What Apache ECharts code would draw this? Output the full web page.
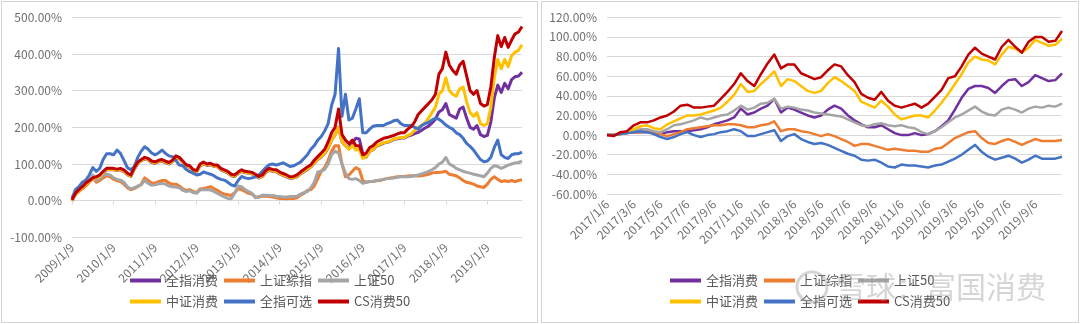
<!DOCTYPE html>
<html>
<head>
<meta charset="utf-8">
<script src="https://cdn.jsdelivr.net/npm/echarts@6/dist/echarts.min.js"></script>
<style>
  html, body { margin: 0; padding: 0; background: #ffffff; }
  #wrap { position: relative; width: 1080px; height: 324px; overflow: hidden; background: #fff; }
  #left { position: absolute; left: 0; top: 0; width: 540px; height: 324px; }
  #right { position: absolute; left: 540px; top: 0; width: 540px; height: 324px; }
  .frame { position: absolute; border: 1px solid #d4d4d4; pointer-events: none; box-sizing: border-box; }
</style>
</head>
<body>
<div id="wrap">
  <div id="left"></div>
  <div id="right"></div>
  <div class="frame" style="left:1px;top:1px;width:537px;height:322px;"></div>
  <div class="frame" style="left:541px;top:1px;width:538px;height:322px;"></div>
</div>
<script>
// ---------- names & colours ----------
const seriesNames = ['全指消费', '上证综指', '上证50', '中证消费', '全指可选', 'CS消费50'];
const seriesColors = ['#7030A0', '#ED7D31', '#A5A5A5', '#FFC000', '#4472C4', '#C00000'];

// ---------- left chart: monthly, 2009/1/9 .. 2019/11/9 ----------
const leftStartYear = 2009;
const leftPointCount = 131;
const leftYTicks = [-100, 0, 100, 200, 300, 400, 500];

const leftPurple = [
  0, 17, 27, 35, 44, 51, 59, 61, 66, 76, 84, 84,
  84, 82, 84, 79, 71, 66, 86, 101, 109, 114, 111, 104,
  102, 106, 108, 104, 100, 106, 117, 114, 104, 94, 91, 81,
  78, 95, 100, 96, 98, 93, 93, 84, 80, 76, 68, 66,
  74, 79, 76, 75, 73, 68, 62, 66, 77, 83, 80, 79,
  73, 69, 65, 61, 62, 65, 73, 79, 85, 92, 102, 112,
  119, 129, 144, 165, 180, 200, 160, 150, 142, 158, 170, 168,
  128, 119, 134, 139, 149, 152, 157, 159, 162, 167, 169, 171,
  171, 176, 179, 183, 186, 192, 198, 203, 212, 222, 242, 248,
  265, 235, 230, 225, 250, 255, 225, 200, 195, 205, 180, 175,
  178, 215, 280, 315, 295, 320, 305, 330, 338, 340, 350
];
const leftOrange = [
  8, 18, 25, 32, 40, 50, 65, 50, 55, 62, 68, 65,
  58, 55, 52, 45, 35, 30, 33, 38, 45, 62, 55, 48,
  48, 52, 55, 55, 48, 45, 45, 40, 32, 28, 30, 25,
  22, 32, 33, 35, 38, 33, 28, 22, 18, 16, 14, 22,
  32, 30, 25, 20, 18, 10, 10, 12, 12, 11, 10, 8,
  6, 6, 5, 6, 6, 8, 15, 20, 28, 30, 40, 60,
  80, 90, 110, 135, 150, 150, 100, 65, 70, 80, 90, 85,
  55, 50, 52, 52, 54, 55, 58, 60, 62, 63, 65, 66,
  66, 67, 68, 68, 67, 68, 70, 72, 75, 77, 77, 78,
  80, 72, 70, 68, 62, 55, 50, 48, 45, 40, 38, 36,
  45, 58, 65, 58, 52, 54, 52, 55, 52, 55, 57
];
const leftGray = [
  10, 22, 30, 38, 45, 55, 70, 55, 60, 68, 72, 70,
  62, 58, 56, 50, 38, 32, 35, 40, 43, 55, 47, 42,
  43, 46, 47, 45, 40, 38, 37, 35, 28, 25, 27, 22,
  20, 29, 30, 30, 29, 25, 20, 15, 10, 6, 5, 20,
  40, 38, 30, 25, 20, 8, 10, 15, 15, 14, 14, 12,
  11, 10, 10, 11, 11, 12, 18, 22, 25, 35, 50, 78,
  80, 85, 100, 125, 135, 130, 100, 75, 60, 58, 60, 55,
  47, 50, 52, 53, 55, 56, 58, 60, 61, 62, 64, 65,
  65, 65, 66, 68, 70, 73, 76, 80, 84, 90, 100, 105,
  118, 100, 95, 88, 84, 80, 77, 75, 72, 70, 68, 65,
  75, 88, 95, 93, 88, 92, 97, 100, 103, 104, 108
];
const leftYellow = [
  0, 17, 27, 35, 45, 52, 60, 62, 67, 77, 85, 85,
  85, 83, 85, 80, 72, 67, 87, 102, 110, 115, 112, 105,
  103, 107, 109, 105, 101, 107, 118, 115, 105, 95, 92, 82,
  79, 96, 101, 97, 99, 94, 94, 85, 81, 77, 69, 67,
  75, 80, 77, 76, 74, 69, 63, 67, 78, 84, 81, 80,
  74, 70, 66, 62, 63, 66, 74, 80, 86, 93, 103, 113,
  120, 130, 145, 165, 180, 200, 160, 150, 140, 150, 138, 140,
  115, 120, 135, 140, 150, 153, 158, 160, 163, 168, 170, 172,
  172, 178, 182, 192, 200, 205, 212, 225, 240, 255, 290, 300,
  335, 300, 290, 285, 305, 310, 270, 240, 230, 240, 210, 205,
  210, 255, 335, 385, 360, 385, 365, 395, 405, 410, 425
];
const leftBlue = [
  5, 30, 38, 50, 56, 70, 90, 80, 88, 112, 128, 128,
  125, 138, 129, 110, 90, 84, 93, 118, 135, 147, 140, 130,
  125, 130, 138, 129, 122, 120, 110, 97, 95, 85, 79, 75,
  70, 72, 78, 75, 72, 68, 62, 58, 56, 50, 43, 40,
  55, 66, 62, 60, 62, 65, 70, 80, 90, 98, 100, 97,
  100, 103, 98, 93, 95, 100, 105, 115, 125, 140, 150, 165,
  175, 190, 210, 260, 290, 415, 230, 290, 220, 225, 250, 278,
  185, 185, 195, 203, 205, 205, 205, 210, 213, 218, 220, 210,
  205, 205, 205, 200, 195, 205, 210, 213, 220, 225, 222, 215,
  206, 200, 195, 185, 180, 170, 156, 148, 138, 125, 112, 106,
  108, 118, 145, 165, 125, 118, 115, 125, 128, 128, 132
];
const leftRed = [
  2, 20, 30, 38, 48, 55, 62, 65, 70, 80, 88, 88,
  88, 86, 88, 84, 75, 70, 90, 105, 112, 118, 115, 108,
  106, 110, 112, 108, 104, 110, 122, 118, 108, 98, 95, 85,
  82, 100, 105, 100, 102, 97, 97, 88, 84, 80, 72, 70,
  78, 84, 80, 79, 77, 72, 66, 70, 82, 88, 85, 84,
  78, 74, 70, 65, 66, 70, 78, 85, 92, 98, 110, 120,
  130, 140, 160, 185, 200, 250, 180, 165, 155, 165, 150, 150,
  125, 130, 145, 150, 160, 165, 170, 172, 175, 178, 182, 185,
  185, 195, 202, 215, 235, 245, 255, 265, 275, 290, 345, 360,
  405, 370, 355, 345, 370, 380, 340, 300, 290, 300, 265, 258,
  262, 310, 390, 450, 420, 445, 418, 438, 455, 460, 475
];

// ---------- right chart: half-monthly, 2017/1/6 .. 2019/11/6 ----------
const rightStartYear = 2017;
const rightPointCount = 69;
const rightYTicks = [-60, -40, -20, 0, 20, 40, 60, 80, 100, 120];

const rightPurple = [
  0, 0, 1, 2, 3, 3, 3, 2, 1, 3, 4, 4, 4, 5, 6, 8, 11, 13, 15, 18, 27, 21,
  23, 27, 30, 37, 23, 28, 26, 23, 20, 18, 20, 26, 30, 27, 20, 15, 11, 8, 8, 10, 6,
  2, 0, 0, 2, 0, 1, 4, 9, 15, 26, 38, 47, 50, 50, 48, 43, 50, 56, 57, 50, 54, 61, 58, 55, 56, 63
];
const rightOrange = [
  0, 0, 1, 2, 3, 3, 4, 3, 1, -1, 1, 3, 6, 7, 8, 9, 10, 10, 11, 11, 10, 8,
  8, 10, 11, 14, 4, 6, 6, 4, 3, 1, -1, 1, -1, -4, -7, -11, -9, -9, -11, -13, -15,
  -14, -15, -16, -16, -17, -17, -14, -13, -8, -3, 0, 3, 4, -3, -8, -9, -6, -4, -7, -10, -7, -4, -6, -6, -6, -5
];
const rightGray = [
  0, 0, 1, 2, 4, 6, 6, 4, 3, 6, 10, 11, 13, 15, 18, 16, 18, 20, 21, 25, 30, 26,
  28, 32, 33, 37, 27, 29, 28, 26, 25, 23, 22, 21, 20, 19, 16, 13, 10, 9, 11, 12, 10,
  9, 10, 8, 7, 3, 1, 4, 8, 13, 18, 21, 25, 29, 24, 21, 20, 26, 28, 26, 23, 27, 29, 28, 30, 29, 32
];
const rightYellow = [
  0, 0, 1, 3, 6, 9, 10, 7, 6, 11, 14, 17, 20, 20, 21, 23, 25, 28, 34, 41, 52, 44,
  45, 52, 58, 65, 50, 57, 55, 50, 45, 43, 45, 53, 59, 55, 50, 45, 34, 31, 28, 35, 29,
  21, 16, 18, 20, 20, 18, 25, 33, 42, 52, 62, 74, 80, 77, 76, 72, 82, 90, 88, 84, 89, 97, 94, 91, 92, 98
];
const rightBlue = [
  0, 0, 1, 2, 3, 4, 3, 1, -2, -4, -2, 1, 3, 0, -2, 0, 1, 3, 4, 6, 4, -1,
  -1, 1, 3, 5, -6, -1, 1, -4, -7, -9, -8, -10, -13, -16, -19, -21, -25, -26, -25, -28, -32,
  -33, -30, -31, -31, -32, -33, -31, -30, -27, -24, -20, -15, -10, -17, -22, -25, -23, -21, -24, -28, -25, -21, -24, -24, -24, -22
];
const rightRed = [
  0, -1, 3, 4, 10, 13, 13, 15, 18, 20, 24, 30, 31, 28, 28, 29, 30, 37, 44, 52, 63, 55,
  50, 62, 73, 82, 68, 72, 72, 63, 60, 57, 59, 66, 72, 70, 61, 54, 42, 38, 36, 44, 35,
  30, 28, 30, 32, 28, 32, 39, 46, 58, 60, 70, 82, 89, 83, 80, 77, 90, 97, 90, 84, 95, 100, 100, 95, 96, 106
];

// ---------- categories ----------
const leftDates = [];
for (let i = 0; i < leftPointCount; i++) {
  const y = leftStartYear + Math.floor(i / 12);
  const m = (i % 12) + 1;
  leftDates.push(y + '/' + m + '/9');
}
const rightDates = [];
for (let i = 0; i < rightPointCount; i++) {
  const mi = Math.floor(i / 2);
  const y = rightStartYear + Math.floor(mi / 12);
  const m = (mi % 12) + 1;
  rightDates.push(y + '/' + m + '/' + (i % 2 === 0 ? '6' : '21'));
}

const FONT = '"Noto Sans CJK SC", "Noto Sans", sans-serif';
const legendData = ['全指消费', '上证综指', '上证50', '', '中证消费', '全指可选', 'CS消费50'];
const watermarkText = '雪球：富国消费';

function buildSeries(arrs, width) {
  return arrs.map((d, i) => ({
    name: seriesNames[i],
    type: 'line',
    data: d,
    showSymbol: false,
    symbol: 'none',
    lineStyle: { width: width, color: seriesColors[i], join: 'round' },
    itemStyle: { color: seriesColors[i] },
    animation: false,
    z: 2 + i
  }));
}

function baseLegend() {
  return {
    data: legendData,
    left: 130,
    top: 273,
    icon: 'rect',
    itemWidth: 31,
    itemHeight: 4,
    itemGap: 6,
    textStyle: { fontFamily: FONT, fontSize: 13, color: '#595959', lineHeight: 15 },
    padding: 0
  };
}

function yAxisFmt(v) { return v.toFixed(2) + '%'; }

// ---------- left chart ----------
const leftChart = echarts.init(document.getElementById('left'), null, { renderer: 'canvas' });
leftChart.setOption({
  animation: false,
  color: seriesColors,
  grid: { left: 72, right: 18, top: 17.3, bottom: 86.7, containLabel: false },
  legend: baseLegend(),
  xAxis: {
    type: 'category',
    data: leftDates,
    boundaryGap: false,
    axisLine: { show: true, onZero: true, lineStyle: { color: '#d9d9d9', width: 1 } },
    axisTick: { show: true, length: 4, interval: (i) => i % 12 === 0, lineStyle: { color: '#d9d9d9' } },
    axisLabel: {
      interval: (i) => i % 12 === 0,
      rotate: 45, margin: 8,
      fontFamily: FONT, fontSize: 12, color: '#6f6f6f'
    },
    splitLine: { show: false }
  },
  yAxis: {
    type: 'value',
    min: leftYTicks[0], max: leftYTicks[leftYTicks.length - 1], interval: 100,
    axisLine: { show: false }, axisTick: { show: false },
    axisLabel: { formatter: yAxisFmt, fontFamily: FONT, fontSize: 12, color: '#6f6f6f', margin: 10 },
    splitLine: { lineStyle: { color: '#d9d9d9', width: 1 } }
  },
  series: buildSeries([leftPurple, leftOrange, leftGray, leftYellow, leftBlue, leftRed], 3)
});

// ---------- right chart ----------
const rightChart = echarts.init(document.getElementById('right'), null, { renderer: 'canvas' });
rightChart.setOption({
  animation: false,
  color: seriesColors,
  grid: { left: 67, right: 18, top: 17.3, bottom: 130, containLabel: false },
  legend: baseLegend(),
  xAxis: {
    type: 'category',
    data: rightDates,
    boundaryGap: false,
    axisLine: { show: false, onZero: false },
    axisTick: { show: false },
    axisLabel: {
      interval: (i) => i % 4 === 0 && i < rightPointCount - 1,
      rotate: 45, margin: 8,
      fontFamily: FONT, fontSize: 12, color: '#6f6f6f'
    },
    splitLine: { show: false }
  },
  yAxis: {
    type: 'value',
    min: rightYTicks[0], max: rightYTicks[rightYTicks.length - 1], interval: 20,
    axisLine: { show: false }, axisTick: { show: false },
    axisLabel: { formatter: yAxisFmt, fontFamily: FONT, fontSize: 12, color: '#6f6f6f', margin: 10 },
    splitLine: { lineStyle: { color: '#d9d9d9', width: 1 } }
  },
  graphic: [
    {
      type: 'circle',
      shape: { cx: 272, cy: 287, r: 15 },
      style: { fill: 'none', stroke: 'rgba(150,150,150,0.4)', lineWidth: 3 },
      z: 100
    },
    {
      type: 'text',
      x: 296, y: 272,
      z: 100,
      style: { text: watermarkText, fontFamily: FONT, fontSize: 30, fill: 'rgba(150,150,150,0.4)' }
    }
  ],
  series: buildSeries([rightPurple, rightOrange, rightGray, rightYellow, rightBlue, rightRed], 2.5)
});
</script>
</body>
</html>
